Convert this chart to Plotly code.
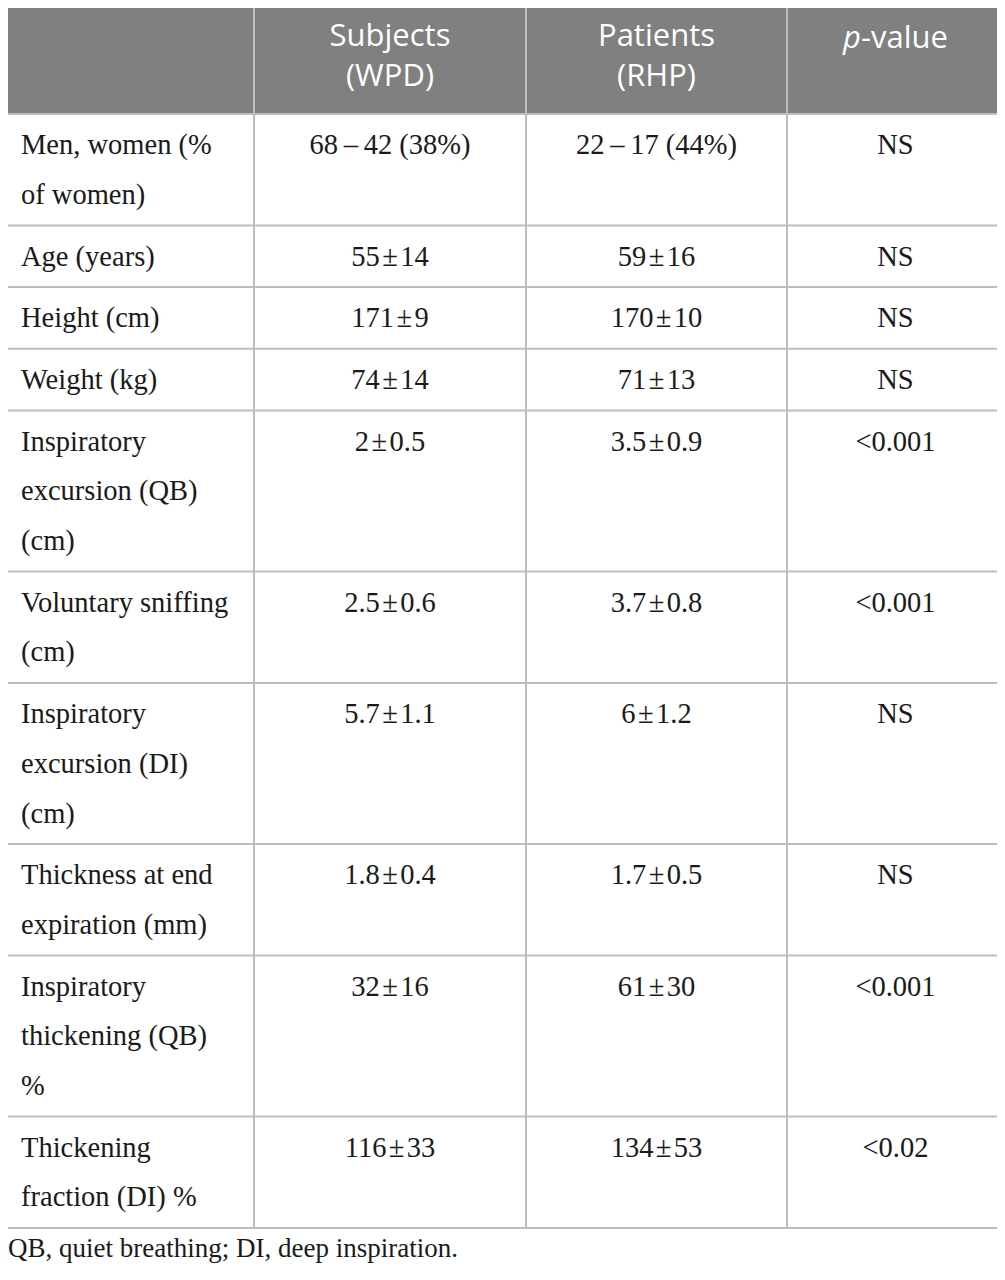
import numpy as np
import plotly.graph_objects as go

# table content
header = ["", "Subjects<br>(WPD)", "Patients<br>(RHP)", "<i>p</i>-value"]

params = [
    "Men, women (%<br>of women)",
    "Age (years)",
    "Height (cm)",
    "Weight (kg)",
    "Inspiratory<br>excursion (QB)<br>(cm)",
    "Voluntary sniffing<br>(cm)",
    "Inspiratory<br>excursion (DI)<br>(cm)",
    "Thickness at end<br>expiration (mm)",
    "Inspiratory<br>thickening (QB)<br>%",
    "Thickening<br>fraction (DI) %",
]
subjects = ["68\u2009\u2013\u200942 (38%)", "55\u200a±\u200a14", "171\u200a±\u200a9", "74\u200a±\u200a14",
            "2\u200a±\u200a0.5", "2.5\u200a±\u200a0.6", "5.7\u200a±\u200a1.1", "1.8\u200a±\u200a0.4",
            "32\u200a±\u200a16", "116\u200a±\u200a33"]
patients = ["22\u2009\u2013\u200917 (44%)", "59\u200a±\u200a16", "170\u200a±\u200a10", "71\u200a±\u200a13",
            "3.5\u200a±\u200a0.9", "3.7\u200a±\u200a0.8", "6\u200a±\u200a1.2", "1.7\u200a±\u200a0.5",
            "61\u200a±\u200a30", "134\u200a±\u200a53"]
pvalues = ["NS", "NS", "NS", "NS", "<0.001", "<0.001", "NS", "NS", "<0.001", "<0.02"]

footnote = "QB, quiet breathing; DI, deep inspiration."

# layout of the grid (page pixels)
col_widths = [254, 272, 261, 217]
table_top = 4
header_h = 110
line_step = 49.7
row_pad = 12
left_pad = 21
page_margin = 8   # browser default body margin

edges = np.concatenate([[0], np.cumsum(col_widths)])
centers = (edges[:-1] + edges[1:]) / 2
n_lines = [len(p.split("<br>")) for p in params]
row_h = [row_pad + line_step * n for n in n_lines]
row_tops = table_top + header_h + np.concatenate([[0], np.cumsum(row_h)])
table_bottom = row_tops[-1]

body_font = dict(family="Liberation Serif", size=28.5, color="#1a1a1a")
head_font = dict(family="Open Sans", size=31, color="white")

fig = go.Figure()

# header cells: two-line titles centred in the header, single-line ones at the top line
head_y = [table_top + (54 if "<br>" in h else 36) for h in header]
fig.add_trace(go.Scatter(x=centers, y=head_y, text=header, mode="text",
                         textposition="middle center", textfont=head_font,
                         hoverinfo="skip", showlegend=False))

# first column (left aligned, wrapped)
px_, py_, pt_ = [], [], []
for i, p in enumerate(params):
    for j, part in enumerate(p.split("<br>")):
        px_.append(edges[0] + left_pad)
        py_.append(row_tops[i] + 33 + line_step * j)
        pt_.append(part)
fig.add_trace(go.Scatter(x=px_, y=py_, text=pt_, mode="text", textposition="middle right",
                         textfont=body_font, hoverinfo="skip", showlegend=False))

# value columns (centred)
for c, col in enumerate([subjects, patients, pvalues], start=1):
    fig.add_trace(go.Scatter(x=[centers[c]] * len(col), y=row_tops[:-1] + 33, text=col,
                             mode="text", textposition="middle center",
                             textfont=body_font, hoverinfo="skip", showlegend=False))

# footnote
fig.add_trace(go.Scatter(x=[page_margin], y=[table_bottom + 22], text=[footnote], mode="text",
                         textposition="middle right", cliponaxis=False,
                         textfont=dict(family="Liberation Serif", size=27, color="#1a1a1a"),
                         hoverinfo="skip", showlegend=False))

# header fill + grid lines
shapes = [dict(type="rect", x0=edges[0], x1=edges[-1], y0=table_top, y1=table_top + header_h,
               fillcolor="#808080", line_width=0, layer="below")]
for y in [table_top] + list(row_tops):
    shapes.append(dict(type="line", x0=edges[0], x1=edges[-1], y0=y, y1=y,
                       line=dict(color="#bdbdbd", width=2)))
for x in edges:
    shapes.append(dict(type="line", x0=x, x1=x, y0=table_top, y1=table_bottom,
                       line=dict(color="#bdbdbd", width=2)))

W, H = 1005, 1280
fig_w, fig_h = W - 2 * page_margin, H - 2 * page_margin - 2
fig.update_layout(
    width=fig_w, height=fig_h, margin=dict(l=0, r=0, t=0, b=0),
    paper_bgcolor="white", plot_bgcolor="white", shapes=shapes,
    xaxis=dict(range=[page_margin, page_margin + fig_w], visible=False, fixedrange=True),
    yaxis=dict(range=[page_margin + fig_h, page_margin], visible=False, fixedrange=True),
)
fig.write_html("out.html")
